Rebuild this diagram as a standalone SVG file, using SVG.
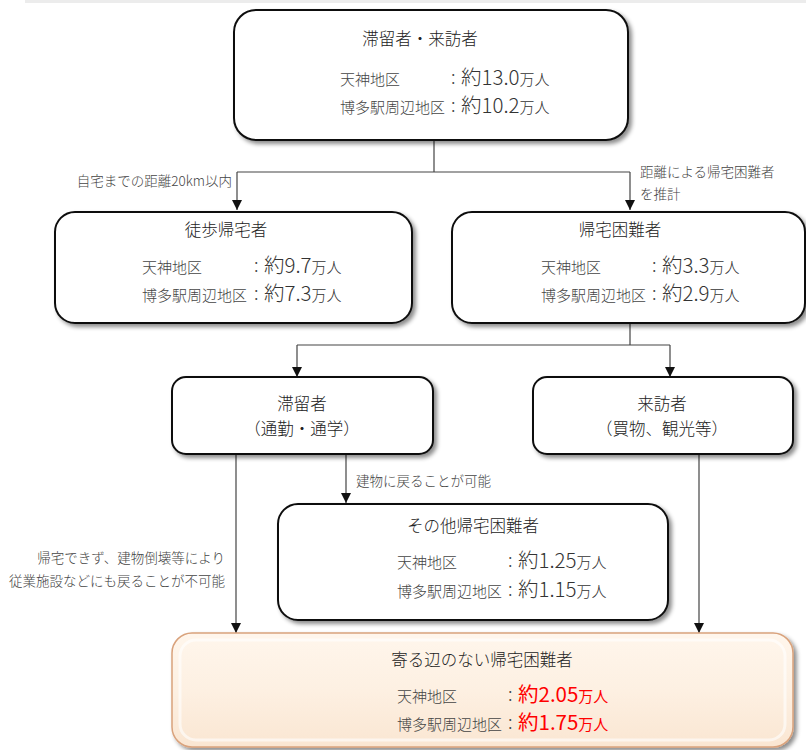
<svg xmlns="http://www.w3.org/2000/svg" width="806" height="750" viewBox="0 0 806 750">
<defs>
<filter id="sh" x="-10%" y="-10%" width="125%" height="130%">
<feDropShadow dx="3" dy="3" stdDeviation="2" flood-color="#000" flood-opacity="0.45"/>
</filter>
<linearGradient id="peach" x1="0" y1="0" x2="0" y2="1">
<stop offset="0" stop-color="#fff6ec"/>
<stop offset="0.5" stop-color="#fdf0e2"/>
<stop offset="1" stop-color="#fae6d2"/>
</linearGradient>
<marker id="ah" viewBox="0 0 10 10" refX="10" refY="5" markerWidth="10" markerHeight="10" markerUnits="userSpaceOnUse" orient="auto">
<path d="M0,0 L10,5 L0,10 z" fill="#111"/>
</marker>
<style>
text{font-family:"Noto Sans CJK JP","Noto Sans",sans-serif;font-weight:300;fill:#333}
.box{fill:#fff;stroke:#111;stroke-width:2}
.title{font-size:16.5px;text-anchor:middle;fill:#222}
.lab{font-size:15px;fill:#444}
.col{font-size:18px;fill:#444}
.val{font-size:20.5px;fill:#333}
.unit{font-size:15px}
.red{fill:#f00;font-weight:400}
.note{font-size:13.5px;fill:#444}
.conn path{fill:none;stroke:#444;stroke-width:1.2}
.arr{marker-end:url(#ah)}
</style>
</defs>
<rect x="25" y="0" width="781" height="3" fill="#ececec"/>

<g class="conn">
<path d="M434,140 V172 M237,172 H630"/>
<path class="arr" d="M237,172 V210"/>
<path class="arr" d="M630,172 V210"/>
<path d="M630,323 V345 M297,345 H670"/>
<path class="arr" d="M297,345 V377"/>
<path class="arr" d="M670,345 V377"/>
<path class="arr" d="M236,454 V633"/>
<path class="arr" d="M346,454 V503"/>
<path class="arr" d="M699,454 V633"/>
<text class="note" x="232" y="186" text-anchor="end">自宅までの距離20km以内</text>
<text class="note" x="640" y="177">距離による帰宅困難者</text>
<text class="note" x="640" y="199">を推計</text>
<text class="note" x="356" y="486">建物に戻ることが可能</text>
<text class="note" x="225" y="563" text-anchor="end">帰宅できず、建物倒壊等により</text>
<text class="note" x="225" y="586" text-anchor="end">従業施設などにも戻ることが不可能</text>
</g>

<g id="n-top">
<rect class="box" x="234" y="10" width="394" height="130" rx="22" filter="url(#sh)"/>
<text class="title" x="420" y="45">滞留者・来訪者</text>
<text class="lab" x="340" y="85">天神地区</text>
<text class="col" x="451" y="84">:</text>
<text class="val" x="461" y="85">約13.0<tspan class="unit">万人</tspan></text>
<text class="lab" x="340" y="113">博多駅周辺地区</text>
<text class="col" x="451" y="112">:</text>
<text class="val" x="461" y="113">約10.2<tspan class="unit">万人</tspan></text>
</g>

<g id="n-walk">
<rect class="box" x="55" y="212" width="357" height="111" rx="20" filter="url(#sh)"/>
<text class="title" x="226" y="236">徒歩帰宅者</text>
<text class="lab" x="142" y="273">天神地区</text>
<text class="col" x="254" y="272">:</text>
<text class="val" x="264" y="273">約9.7<tspan class="unit">万人</tspan></text>
<text class="lab" x="142" y="301">博多駅周辺地区</text>
<text class="col" x="254" y="300">:</text>
<text class="val" x="264" y="301">約7.3<tspan class="unit">万人</tspan></text>
</g>

<g id="n-diff">
<rect class="box" x="452" y="212" width="353" height="111" rx="20" filter="url(#sh)"/>
<text class="title" x="620" y="236">帰宅困難者</text>
<text class="lab" x="541" y="273">天神地区</text>
<text class="col" x="652" y="272">:</text>
<text class="val" x="662" y="273">約3.3<tspan class="unit">万人</tspan></text>
<text class="lab" x="541" y="301">博多駅周辺地区</text>
<text class="col" x="652" y="300">:</text>
<text class="val" x="662" y="301">約2.9<tspan class="unit">万人</tspan></text>
</g>

<g id="n-stay">
<rect class="box" x="172" y="377" width="261" height="77" rx="14" filter="url(#sh)"/>
<text class="title" x="302" y="410">滞留者</text>
<text class="title" x="302" y="435">（通勤・通学）</text>
</g>

<g id="n-visit">
<rect class="box" x="533" y="377" width="260" height="77" rx="14" filter="url(#sh)"/>
<text class="title" x="662" y="410">来訪者</text>
<text class="title" x="662" y="435">（買物、観光等）</text>
</g>

<g id="n-other">
<rect class="box" x="278" y="504" width="390" height="116" rx="20" filter="url(#sh)"/>
<text class="title" x="473" y="532">その他帰宅困難者</text>
<text class="lab" x="397" y="568">天神地区</text>
<text class="col" x="508" y="567">:</text>
<text class="val" x="518" y="568">約1.25<tspan class="unit">万人</tspan></text>
<text class="lab" x="397" y="597">博多駅周辺地区</text>
<text class="col" x="508" y="596">:</text>
<text class="val" x="518" y="597">約1.15<tspan class="unit">万人</tspan></text>
</g>

<g id="n-final">
<rect x="172" y="633" width="621" height="114" rx="20" fill="url(#peach)" stroke="#d9a27c" stroke-width="1.5" filter="url(#sh)"/>
<rect x="180" y="640" width="605" height="100" rx="16" fill="none" stroke="#fff" stroke-opacity="0.6" stroke-width="3"/>
<text class="title" x="482" y="666">寄る辺のない帰宅困難者</text>
<text class="lab" x="397" y="702">天神地区</text>
<text class="col" x="508" y="701">:</text>
<text class="val red" x="518" y="702">約2.05<tspan class="unit">万人</tspan></text>
<text class="lab" x="397" y="730">博多駅周辺地区</text>
<text class="col" x="508" y="729">:</text>
<text class="val red" x="518" y="730">約1.75<tspan class="unit">万人</tspan></text>
</g>
</svg>
